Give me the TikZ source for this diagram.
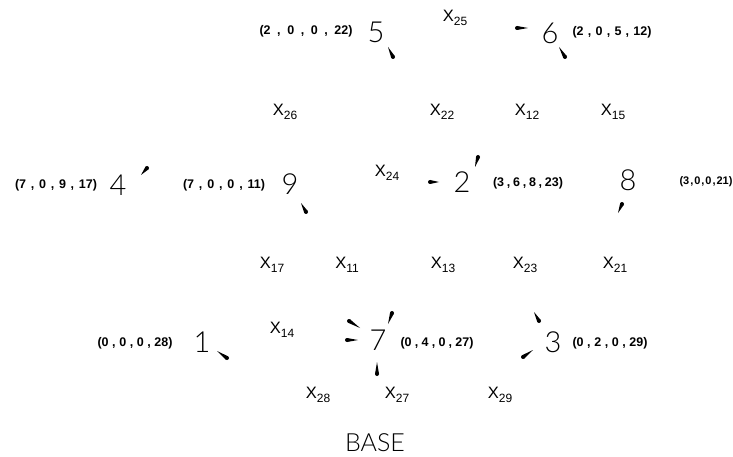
\documentclass[tikz,border=0pt]{standalone}
\usepackage{fontspec}
\usetikzlibrary{calc}
\setmainfont{Liberation Sans}
\newfontfamily\thinfont{Lato Light}
\newfontfamily\coordfont{Liberation Sans}
\newcommand\cd[6][12.5]{\makebox[#2][s]{\coordfont\bfseries\fontsize{#1}{#1}\selectfont (#3\hfil,\hfil#4\hfil,\hfil#5\hfil,\hfil#6)}}
\newcommand\xl[1]{\fontsize{16.5}{16.5}\selectfont X\raisebox{-4pt}{\fontsize{12}{12}\selectfont #1}}
\newcommand\ah[2]{\fill (#1) -- ($(#2)!2pt!90:(#1)$) -- ($(#2)!2pt!-90:(#1)$) -- cycle; \fill (#2) circle (2pt);}
\begin{document}
\begin{tikzpicture}[x=1pt,y=-1pt,
  vert/.style={inner sep=0pt,font=\thinfont\fontsize{29}{29}\selectfont},
  coord/.style={inner sep=0pt},
  var/.style={inner sep=0pt}]
\useasboundingbox (0,0) rectangle (733,457);
% vertices
\node[vert] (n5) at (376,32) {5};
\node[vert] (n6) at (550,33) {6};
\node[vert] (n4) at (118,185) {4};
\node[vert] (n9) at (290,184) {9};
\node[vert] (n2) at (462,182) {2};
\node[vert] (n8) at (628,180) {8};
\node[vert] (n1) at (202,342) {1};
\node[vert] (n7) at (378,340) {7};
\node[vert] (n3) at (553,342) {3};
% vertex values
\node[coord] (c5) at (306,31) {\cd{93pt}{2}{0}{0}{22}};
\node[coord] (c6) at (612,32) {\cd{79pt}{2}{0}{5}{12}};
\node[coord] (c4) at (56,185) {\cd{82pt}{7}{0}{9}{17}};
\node[coord] (c9) at (224,185) {\cd{82pt}{7}{0}{0}{11}};
\node[coord] (c2) at (528,183) {\cd{70pt}{3}{6}{8}{23}};
\node[coord] (c8) at (706,182) {\cd[11]{53pt}{3}{0}{0}{21}};
\node[coord] (c1) at (135,343) {\cd{75pt}{0}{0}{0}{28}};
\node[coord] (c7) at (437,343) {\cd{73pt}{0}{4}{0}{27}};
\node[coord] (c3) at (610,343) {\cd{75pt}{0}{2}{0}{29}};
% variables
\node[var] (x25) at (455,18) {\xl{25}};
\node[var] (x26) at (285,112) {\xl{26}};
\node[var] (x22) at (442,112) {\xl{22}};
\node[var] (x12) at (527,112) {\xl{12}};
\node[var] (x15) at (613,112) {\xl{15}};
\node[var] (x24) at (387,173) {\xl{24}};
\node[var] (x17) at (272,265) {\xl{17}};
\node[var] (x11) at (347,265) {\xl{11}};
\node[var] (x13) at (443,265) {\xl{13}};
\node[var] (x23) at (525,265) {\xl{23}};
\node[var] (x21) at (615,265) {\xl{21}};
\node[var] (x14) at (282,330) {\xl{14}};
\node[var] (x28) at (318,395) {\xl{28}};
\node[var] (x27) at (397,395) {\xl{27}};
\node[var] (x29) at (500,395) {\xl{29}};
\node[inner sep=0pt,font=\thinfont\fontsize{25}{25}\selectfont] (base) at (375,443) {BASE};
% arrowheads (thin end, thick end)
\ah{388,47}{393,57}
\ah{528,28}{517,28}
\ah{559,47}{565,57}
\ah{141,175}{147,168}
\ah{301,203}{306,212}
\ah{439,182}{430,182}
\ah{475,167}{478,157}
\ah{618,213}{622,204}
\ah{217,351}{227,358}
\ah{360,328}{349,321}
\ah{358,340}{347,340}
\ah{388,324}{392,313}
\ah{377,362}{377,374}
\ah{534,312}{539,321}
\ah{533,350}{523,357}
\end{tikzpicture}
\end{document}
